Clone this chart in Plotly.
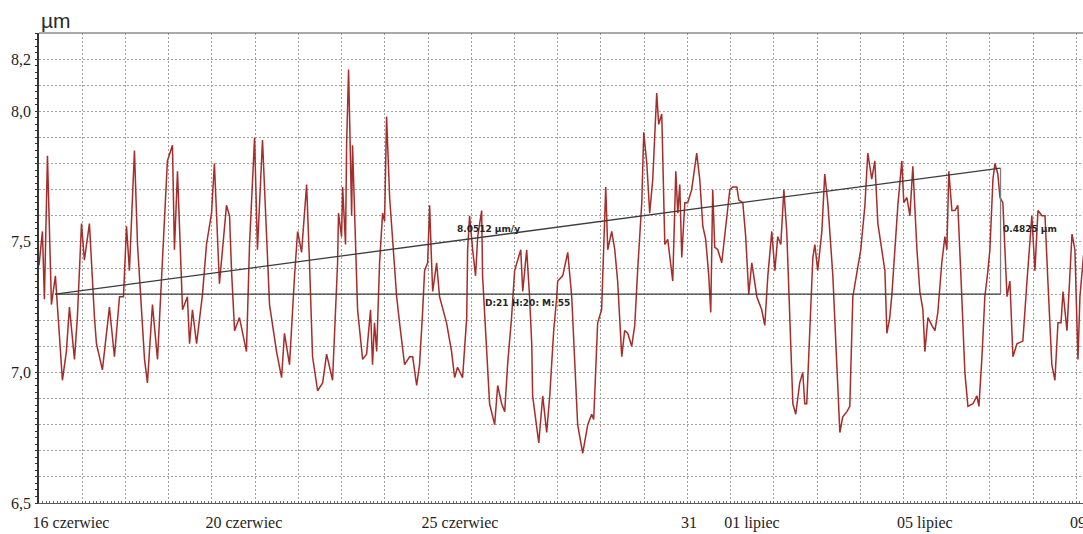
import plotly.graph_objects as go

# Dendrometer record: hours since 16 June 00:00 and stem radius value [µm scale]
hours = [
    0.0, 1.9, 3.0, 4.7, 6.9, 9.1, 13.0, 15.2, 16.9, 19.7, 21.3, 23.6, 25.2, 28.0, 30.8, 31.9,
    35.2, 39.1, 41.9, 44.7, 46.9, 48.6, 50.2, 53.0, 54.7, 56.9, 58.6, 60.2, 63.0, 65.8, 68.6,
    71.3, 74.1, 75.2, 76.9, 79.7, 82.4, 83.6, 85.2, 87.5, 90.8, 93.0, 95.8, 97.4, 100.2, 104.1,
    105.8, 106.9, 108.6, 111.3, 115.2, 116.9, 119.7, 121.3, 124.1, 126.3, 128.0, 131.9, 134.7,
    136.3, 139.1, 141.9, 143.6, 145.8, 148.6, 150.2, 151.9, 154.7, 157.5, 159.7, 162.5, 163.0,
    165.8, 166.3, 168.0, 168.6, 170.2, 170.8, 171.9, 173.6, 174.1, 175.8, 176.9, 179.7, 181.9,
    184.1, 185.2, 186.3, 187.5, 189.1, 190.8, 191.9, 193.0, 194.7, 196.9, 198.6, 200.2, 203.0,
    205.8, 207.5, 209.7, 211.3, 213.0, 214.1, 215.8, 216.9, 218.0, 218.6, 220.8, 222.4, 226.3,
    229.1, 230.8, 232.4, 235.2, 237.5, 238.0, 239.1, 240.8, 242.4, 243.6, 245.8, 246.3, 248.6,
    250.2, 253.0, 254.7, 256.9, 258.6, 260.2, 262.4, 264.1, 265.8, 267.5, 268.6, 270.8, 272.4,
    273.6, 274.1, 277.5, 279.7, 281.9, 283.6, 285.8, 287.5, 288.0, 290.8, 293.6, 295.8, 297.5,
    299.1, 301.9, 304.7, 306.9, 308.0, 310.2, 312.4, 314.7, 315.8, 318.0, 319.7, 321.3, 323.6,
    325.2, 326.9, 329.1, 330.8, 332.4, 334.7, 335.8, 337.5, 339.1, 340.8, 343.0, 344.1, 345.8,
    346.3, 347.5, 349.1, 351.3, 351.9, 353.6, 354.7, 355.8, 356.9, 358.6, 360.2, 362.4, 365.2,
    366.9, 368.6, 370.2, 371.9, 373.0, 374.1, 375.2, 376.9, 379.1, 381.9, 383.6, 385.2, 387.5,
    388.6, 390.8, 392.4, 394.1, 395.8, 397.5, 398.6, 401.3, 403.0, 404.7, 406.9, 408.6, 410.2,
    411.9, 413.6, 415.2, 416.9, 418.6, 420.2, 422.4, 424.1, 425.2, 426.3, 428.0, 429.7, 430.8,
    432.4, 434.7, 436.3, 438.0, 440.8, 443.0, 444.7, 446.3, 448.6, 450.2, 451.9, 454.1, 456.3,
    458.6, 460.2, 462.4, 464.1, 465.8, 468.0, 469.7, 470.8, 472.4, 473.6, 475.2, 476.9, 479.1,
    480.2, 481.9, 483.6, 485.2, 487.5, 489.1, 490.8, 491.9, 493.6, 495.8, 497.5, 499.1, 501.3,
    503.0, 504.1, 505.2, 506.9, 508.6, 510.2, 512.4, 514.1, 515.8, 518.6, 520.8, 521.9, 523.6,
    525.2, 526.9, 528.0, 529.7, 530.8, 532.4, 533.6, 535.2, 536.9, 537.5, 539.1, 540.8, 543.0,
    546.3, 548.6, 551.3, 553.0, 554.7, 556.9, 558.6, 560.2, 562.4, 564.1, 565.8, 567.5, 568.6,
    570.8, 572.4, 573.6, 575.2, 576.9, 578.0, 580.0,
]
radius_um = [
    7.41, 7.54, 7.28, 7.83, 7.26, 7.37, 6.97, 7.08, 7.25, 7.05, 7.21, 7.57, 7.43, 7.57, 7.21, 7.11,
    7.01, 7.25, 7.06, 7.29, 7.29, 7.56, 7.39, 7.85, 7.49, 7.26, 7.05, 6.96, 7.26, 7.05, 7.42,
    7.81, 7.87, 7.47, 7.77, 7.24, 7.29, 7.11, 7.24, 7.11, 7.30, 7.49, 7.61, 7.80, 7.34, 7.64,
    7.60, 7.39, 7.16, 7.21, 7.08, 7.49, 7.90, 7.47, 7.89, 7.52, 7.26, 7.08, 6.98,
    7.15, 7.03, 7.37, 7.54, 7.46, 7.72, 7.42, 7.06, 6.93, 6.96, 7.07, 6.98, 6.97,
    7.42, 7.61, 7.52, 7.71, 7.49, 7.87, 8.16, 7.60, 7.87, 7.47, 7.24, 7.05, 7.07,
    7.24, 7.03, 7.19, 7.08, 7.42, 7.61, 7.58, 7.98, 7.67, 7.44, 7.29, 7.19, 7.03,
    7.06, 7.06, 6.95, 7.03, 7.23, 7.39, 7.42, 7.64, 7.42, 7.31, 7.42, 7.29, 7.19,
    7.08, 6.98, 7.02, 6.98, 7.21, 7.47, 7.60, 7.47, 7.37, 7.52, 7.62, 7.37, 7.06,
    6.88, 6.80, 6.95, 6.88, 6.85, 7.03, 7.21, 7.39, 7.43, 7.47, 7.31, 7.47, 7.29,
    7.11, 6.91, 6.73, 6.91, 6.77, 6.91, 7.16, 7.29, 7.35, 7.37, 7.46, 7.29, 7.03,
    6.80, 6.69, 6.80, 6.84, 6.82, 7.19, 7.24, 7.71, 7.47, 7.54, 7.47, 7.35, 7.06,
    7.16, 7.15, 7.10, 7.18, 7.39, 7.65, 7.92, 7.80, 7.61, 7.74, 8.07, 7.95, 7.99,
    7.80, 7.49, 7.51, 7.37, 7.35, 7.77, 7.61, 7.72, 7.44, 7.65, 7.65, 7.70, 7.84,
    7.74, 7.56, 7.51, 7.37, 7.23, 7.70, 7.48, 7.47, 7.42, 7.60, 7.70, 7.71, 7.71,
    7.66, 7.65, 7.52, 7.30, 7.42, 7.35, 7.29, 7.24, 7.18, 7.37, 7.54, 7.39, 7.52,
    7.49, 7.70, 7.54, 7.19, 6.88, 6.84, 6.96, 7.00, 6.88, 6.88, 7.16, 7.44, 7.49,
    7.39, 7.54, 7.76, 7.65, 7.37, 7.03, 6.77, 6.83, 6.85, 6.87, 7.29, 7.38, 7.47,
    7.64, 7.84, 7.74, 7.81, 7.57, 7.47, 7.39, 7.15, 7.21, 7.30, 7.46, 7.64, 7.81,
    7.65, 7.67, 7.60, 7.79, 7.47, 7.31, 7.24, 7.08, 7.21, 7.18, 7.16, 7.23, 7.42,
    7.52, 7.47, 7.77, 7.62, 7.62, 7.64, 7.29, 7.00, 6.87, 6.88, 6.91, 6.87, 7.06,
    7.29, 7.39, 7.47, 7.74, 7.80, 7.76, 7.67, 7.65, 7.34, 7.29, 7.35, 7.06, 7.11,
    7.12, 7.35, 7.60, 7.39, 7.62, 7.60, 7.60, 7.35, 7.03, 6.97, 7.19, 7.19, 7.31,
    7.16, 7.39, 7.53, 7.47, 7.05, 7.29, 7.45,
]

# Date axis labels (hour offsets of their days)
label_hours = [0, 96, 216, 360, 384, 480, 576]
label_texts = ["16 czerwiec", "20 czerwiec", "25 czerwiec", "31", "01 lipiec", "05 lipiec", "09"]

# Value axis labels
y_tickvals = [6.5, 7.0, 7.5, 8.0, 8.2]
y_ticktext = ["6,5", "7,0", "7,5", "8,0", "8,2"]

# Trend measurement: start point, span (21 d 20 h 55 min) and rise
meas_start_h = 9.0
meas_start_val = 7.30
meas_span_h = 21 * 24 + 20 + 55 / 60
meas_rise = 0.4825
rate_label = "8.0512 µm/y"
span_label = "D:21 H:20: M: 55"
rise_label = "0.4825 µm"

x_range = [0, 579.7]
y_range = [6.5, 8.3]

grid_col = "#a0a0a0"
axis_font = dict(family="Liberation Serif", size=16, color="#1e1e1e")

fig = go.Figure()

fig.add_trace(go.Scatter(
    x=hours, y=radius_um, mode="lines",
    line=dict(color="#a52d2a", width=1.5),
    hoverinfo="skip", showlegend=False,
))

m_end_h = meas_start_h + meas_span_h
m_end_val = meas_start_val + meas_rise
meas_col = "#3c3c3c"

# horizontal base line
fig.add_trace(go.Scatter(
    x=[meas_start_h, m_end_h], y=[meas_start_val, meas_start_val], mode="lines",
    line=dict(color=meas_col, width=1.3), hoverinfo="skip", showlegend=False,
))
# sloped trend line
fig.add_trace(go.Scatter(
    x=[meas_start_h, m_end_h], y=[meas_start_val, m_end_val], mode="lines",
    line=dict(color=meas_col, width=1.3), hoverinfo="skip", showlegend=False,
))
# vertical rise line
fig.add_trace(go.Scatter(
    x=[m_end_h, m_end_h], y=[meas_start_val, m_end_val], mode="lines",
    line=dict(color="#808080", width=1.3), hoverinfo="skip", showlegend=False,
))

# fine tick marks on both axes (separate overlay axes)
fig.add_trace(go.Scatter(x=[None], y=[None], xaxis="x2", yaxis="y2",
                         hoverinfo="skip", showlegend=False))

ann_font = dict(family="DejaVu Sans", size=9, color="#262626")
fig.add_annotation(x=(meas_start_h + m_end_h) * 0.46, y=meas_start_val + meas_rise * 0.5,
                   text="<b>" + rate_label + "</b>", showarrow=False, font=ann_font,
                   xanchor="center", yanchor="middle", yshift=2)
fig.add_annotation(x=(meas_start_h + m_end_h) * 0.5, y=meas_start_val,
                   text="<b>" + span_label + "</b>", showarrow=False, font=ann_font,
                   xanchor="center", yanchor="top", yshift=-2)
fig.add_annotation(x=m_end_h, y=meas_start_val + meas_rise * 0.5,
                   text="<b>" + rise_label + "</b>", showarrow=False, font=ann_font,
                   xanchor="left", yanchor="middle", yshift=2)

# unit title
fig.add_annotation(xref="paper", yref="paper", x=0, y=1, xanchor="left", yanchor="bottom",
                   text="µm", showarrow=False, yshift=-1,
                   font=dict(family="Liberation Sans", size=21, color="#2a2a2a"))

# top frame line
fig.add_shape(type="line", xref="paper", yref="paper", x0=0, x1=1, y0=1, y1=1,
              line=dict(color="#555555", width=1.2))

fig.update_layout(
    template="none",
    width=1083, height=534,
    margin=dict(l=39, r=0, t=33, b=31),
    paper_bgcolor="white", plot_bgcolor="white",
    showlegend=False,
    xaxis=dict(
        range=x_range, tickvals=label_hours, ticktext=label_texts,
        tickangle=0,
        ticklabelposition="outside right", ticklabelshift=-7, ticklabelstandoff=5,
        ticklabeloverflow="allow",
        ticks="", tickfont=axis_font,
        showgrid=True, gridcolor=grid_col, griddash="2px,2px", gridwidth=1,
        minor=dict(dtick=24, tick0=0, showgrid=True, gridcolor=grid_col,
                   griddash="2px,2px", gridwidth=1, ticks=""),
        showline=True, linecolor="#5a5a5a", linewidth=1.2,
        zeroline=False, automargin=False,
    ),
    yaxis=dict(
        range=y_range, tickvals=y_tickvals, ticktext=y_ticktext,
        ticks="", tickfont=axis_font, ticklabelstandoff=3,
        showgrid=True, gridcolor=grid_col, griddash="2px,2px", gridwidth=1,
        minor=dict(dtick=0.1, tick0=6.5, showgrid=True, gridcolor=grid_col,
                   griddash="2px,2px", gridwidth=1, ticks=""),
        showline=True, linecolor="#333333", linewidth=1.5,
        zeroline=False, automargin=False,
    ),
    xaxis2=dict(
        overlaying="x", range=x_range, side="bottom", anchor="y2",
        dtick=2, tick0=0, ticks="inside", ticklen=2, tickcolor="#6a6a6a",
        showticklabels=False, showgrid=False, zeroline=False, showline=False,
        automargin=False,
    ),
    yaxis2=dict(
        overlaying="y", range=y_range, side="left", anchor="x2",
        dtick=0.025, tick0=6.5, ticks="outside", ticklen=3, tickcolor="#333333",
        showticklabels=False, showgrid=False, zeroline=False, showline=False,
        automargin=False,
    ),
)

fig.write_html("out.html")
